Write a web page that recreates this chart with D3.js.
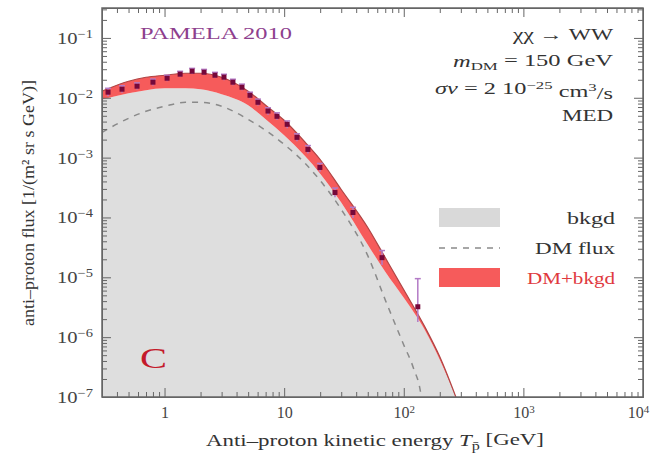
<!DOCTYPE html>
<html>
<head>
<meta charset="utf-8">
<script src="https://cdn.jsdelivr.net/npm/d3@7"></script>
<style>
  body { margin: 0; background: #fff; }
  svg text { font-family: "Liberation Serif", "DejaVu Serif", serif; }
</style>
</head>
<body>
<div id="chart"></div>
<script>
// curves, GeV and 1/(m2 sr s GeV)
var curveE    = [0.3, 0.5, 0.7, 1, 1.5, 2, 3, 5, 7, 10, 15, 20, 30, 50, 70, 100, 150, 200, 300];
var bkgdFlux  = [9.4e-3, 1.19e-2, 1.34e-2, 1.44e-2, 1.44e-2, 1.39e-2, 1.15e-2, 7.5e-3, 4.36e-3, 2.36e-3,
                 1.05e-3, 5.4e-4, 1.78e-4, 3.5e-5, 1.24e-5, 4.55e-6, 1.32e-6, 4.2e-7, 6e-8];
var totalFlux = [1.29e-2, 1.89e-2, 2.2e-2, 2.38e-2, 2.57e-2, 2.57e-2, 2.2e-2, 1.29e-2, 7.5e-3, 4.2e-3,
                 1.8e-3, 9.3e-4, 2.93e-4, 6.8e-5, 2.13e-5, 6.2e-6, 1.49e-6, 4.7e-7, 6e-8];

var dmE    = [0.3, 0.5, 0.7, 1, 1.5, 2, 3, 5, 7, 10, 15, 20, 30, 50, 70, 100, 120, 140, 150];
var dmFlux = [2.64e-3, 4.54e-3, 5.94e-3, 7.2e-3, 8.4e-3, 8.4e-3, 7.2e-3, 4.36e-3, 2.85e-3, 1.66e-3,
              8.0e-4, 4.15e-4, 1.36e-4, 2.3e-5, 4.2e-6, 7.4e-7, 3.1e-7, 1.0e-7, 2e-8];

// PAMELA 2010 anti-proton points
var pamE   = [0.337, 0.441, 0.589, 0.80, 1.05, 1.35, 1.70, 2.14, 2.64, 3.14, 3.73, 4.44,
              5.18, 6.04, 7.33, 8.71, 10.6, 12.8, 15.8, 19.9, 26.6, 37.6, 65.8, 131];
var pamF   = [0.0124, 0.0139, 0.0156, 0.0182, 0.0212, 0.0248, 0.0278, 0.0267, 0.0238, 0.0221, 0.0182, 0.0150,
              0.0110, 0.0084, 0.0060, 0.0049, 0.0036, 0.00218, 0.00137, 6.85e-4, 2.61e-4, 1.21e-4, 2.13e-5, 3.22e-6];
var pamLo  = [0.0106, 0.0121, 0.0137, 0.0161, 0.0189, 0.0222, 0.0249, 0.0239, 0.0213, 0.0197, 0.0162, 0.0133,
              0.0097, 0.0074, 0.0052, 0.0043, 0.0031, 0.00188, 0.00117, 5.8e-4, 2.18e-4, 9.8e-5, 1.6e-5, 1.8e-6];
var pamHi  = [0.0144, 0.0159, 0.0177, 0.0205, 0.0238, 0.0277, 0.0310, 0.0298, 0.0266, 0.0247, 0.0204, 0.0169,
              0.0124, 0.0095, 0.0068, 0.0056, 0.0041, 0.00250, 0.00159, 8.0e-4, 3.1e-4, 1.48e-4, 2.8e-5, 9.5e-6];

var xMajor = [1, 10, 100, 1000, 10000];
var yMajor = [1e-7, 1e-6, 1e-5, 1e-4, 1e-3, 1e-2, 1e-1];

(function(){
  var width = 651, height = 461;
  var pL = 102, pR = 643, pT = 8, pB = 397;

  var svg = d3.select("#chart").append("svg")
    .attr("width", width).attr("height", height);

  var x = d3.scaleLog().domain([0.3, 1e4]).range([pL, pR]);
  var y = d3.scaleLog().domain([1e-7, Math.pow(10, -0.5)]).range([pB, pT]);

  svg.append("clipPath").attr("id", "plot")
    .append("rect").attr("x", pL).attr("y", pT)
    .attr("width", pR - pL).attr("height", pB - pT);

  var plot = svg.append("g").attr("clip-path", "url(#plot)");

  var curve = curveE.map(function(e, i) { return {e: e, b: bkgdFlux[i], t: totalFlux[i]}; });

  // background, grey
  plot.append("path").datum(curve)
    .attr("fill", "#dedede")
    .attr("d", d3.area().curve(d3.curveMonotoneX)
      .x(function(d) { return x(d.e); })
      .y0(pB + 5)
      .y1(function(d) { return y(d.b); }));

  // DM+bkgd band
  plot.append("path").datum(curve)
    .attr("fill", "#f65b5b")
    .attr("d", d3.area().curve(d3.curveMonotoneX)
      .x(function(d) { return x(d.e); })
      .y0(function(d) { return y(d.b); })
      .y1(function(d) { return y(d.t); }));

  plot.append("path").datum(curve)
    .attr("fill", "none").attr("stroke", "#b04545").attr("stroke-width", 1.2)
    .attr("d", d3.line().curve(d3.curveMonotoneX)
      .x(function(d) { return x(d.e); })
      .y(function(d) { return y(d.t); }));

  // DM flux dashed
  plot.append("path").datum(dmE.map(function(e, i) { return [e, dmFlux[i]]; }))
    .attr("fill", "none").attr("stroke", "#8a8a8a").attr("stroke-width", 1.5)
    .attr("stroke-dasharray", "6,6")
    .attr("d", d3.line().curve(d3.curveMonotoneX)
      .x(function(d) { return x(d[0]); })
      .y(function(d) { return y(d[1]); }));

  // data points
  var pts = plot.selectAll(".pt").data(pamE).enter().append("g").attr("class", "pt");
  pts.append("line")
    .attr("x1", function(d) { return x(d); }).attr("x2", function(d) { return x(d); })
    .attr("y1", function(d, i) { return y(pamLo[i]); })
    .attr("y2", function(d, i) { return y(pamHi[i]); })
    .attr("stroke", "#b37ac6").attr("stroke-width", 1.5);
  pts.append("line")
    .attr("x1", function(d) { return x(d) - 3; }).attr("x2", function(d) { return x(d) + 3; })
    .attr("y1", function(d, i) { return y(pamHi[i]); })
    .attr("y2", function(d, i) { return y(pamHi[i]); })
    .attr("stroke", "#b37ac6").attr("stroke-width", 1.5);
  pts.append("rect")
    .attr("x", function(d) { return x(d) - 2.5; })
    .attr("y", function(d, i) { return y(pamF[i]) - 2.5; })
    .attr("width", 5).attr("height", 5)
    .attr("fill", "#76083a");

  // axes
  function minors(lo, hi) {
    var out = [];
    for (var p = lo; p < hi; p++) {
      for (var k = 2; k < 10; k++) out.push(k * Math.pow(10, p));
    }
    return out;
  }
  var xMinor = minors(-1, 4).filter(function(v) { return v >= 0.3 && v <= 1e4; });
  var yMinor = minors(-7, 0).filter(function(v) { return v <= Math.pow(10, -0.5); });

  function sup(sel, supSize) {
    sel.each(function(d) {
      var t = d3.select(this), p = Math.round(Math.log10(d));
      t.text("");
      if (p === 0) { t.text("1"); return; }
      t.append("tspan").text("10");
      if (p !== 1) {
        t.append("tspan").attr("dy", "-0.5em").attr("font-size", supSize)
          .text(p < 0 ? "\u2212" + (-p) : p);
      }
    });
  }

  function styleAxis(g) {
    g.selectAll("path, line").attr("stroke", "#666");
    g.selectAll("text").attr("fill", "#444");
  }

  var gx = svg.append("g").attr("transform", "translate(0," + pB + ")")
    .call(d3.axisBottom(x).tickValues(xMajor).tickSize(-9).tickSizeOuter(0).tickPadding(10));
  gx.selectAll(".tick text").attr("font-size", "16px").call(sup, "11px");
  gx.selectAll(".tick text").filter(function(d) { return d === 10000; }).attr("dx", "-5");
  gx.call(styleAxis);
  svg.append("g").attr("transform", "translate(0," + pB + ")")
    .call(d3.axisBottom(x).tickValues(xMinor).tickSize(-5).tickSizeOuter(0).tickFormat(""))
    .call(styleAxis);

  svg.append("g").attr("transform", "translate(0," + pT + ")")
    .call(d3.axisTop(x).tickValues(xMajor).tickSize(-9).tickSizeOuter(0).tickFormat(""))
    .call(styleAxis);
  svg.append("g").attr("transform", "translate(0," + pT + ")")
    .call(d3.axisTop(x).tickValues(xMinor).tickSize(-5).tickSizeOuter(0).tickFormat(""))
    .call(styleAxis);

  var gy = svg.append("g").attr("transform", "translate(" + pL + ",0)")
    .call(d3.axisLeft(y).tickValues(yMajor).tickSize(-9).tickSizeOuter(0).tickPadding(9));
  gy.selectAll(".tick text").attr("font-size", "17px").call(sup, "12px")
    .attr("textLength", 36).attr("lengthAdjust", "spacingAndGlyphs");
  gy.call(styleAxis);
  svg.append("g").attr("transform", "translate(" + pL + ",0)")
    .call(d3.axisLeft(y).tickValues(yMinor).tickSize(-5).tickSizeOuter(0).tickFormat(""))
    .call(styleAxis);

  svg.append("g").attr("transform", "translate(" + pR + ",0)")
    .call(d3.axisRight(y).tickValues(yMajor).tickSize(-9).tickSizeOuter(0).tickFormat(""))
    .call(styleAxis);
  svg.append("g").attr("transform", "translate(" + pR + ",0)")
    .call(d3.axisRight(y).tickValues(yMinor).tickSize(-5).tickSizeOuter(0).tickFormat(""))
    .call(styleAxis);

  svg.append("rect").attr("x", pL).attr("y", pT)
    .attr("width", pR - pL).attr("height", pB - pT)
    .attr("fill", "none").attr("stroke", "#666").attr("stroke-width", 1.5);

  // text stretched to the widths in the picture
  function wide(t, w) {
    return t.attr("textLength", w).attr("lengthAdjust", "spacingAndGlyphs");
  }

  // axis titles
  var xt = svg.append("text").attr("x", 375).attr("y", 446)
    .attr("text-anchor", "middle").attr("font-size", "17px").attr("fill", "#333");
  xt.append("tspan").text("Anti\u2013proton kinetic energy ");
  xt.append("tspan").attr("font-style", "italic").text("T");
  xt.append("tspan").attr("font-size", "12px").attr("dy", "0.3em").text("p\u0304");
  xt.append("tspan").attr("dy", "-0.3em").text(" [GeV]");
  wide(xt, 338);

  wide(svg.append("text")
    .attr("transform", "translate(34,203) rotate(-90)")
    .attr("text-anchor", "middle").attr("font-size", "17px").attr("fill", "#333")
    .text("anti\u2013proton flux [1/(m\u00b2 sr s GeV)]"), 246);

  // labels in the plot
  wide(svg.append("text").attr("x", 140).attr("y", 39)
    .attr("font-size", "16px").attr("fill", "#8e3f8e")
    .text("PAMELA 2010"), 152);

  var ann = svg.append("g").attr("font-size", "16px").attr("fill", "#333").attr("text-anchor", "end");
  wide(ann.append("text").attr("x", 613).attr("y", 40).text("\u03c7\u03c7 \u2192 WW"), 100);
  var m = ann.append("text").attr("x", 613).attr("y", 67);
  m.append("tspan").attr("font-style", "italic").text("m");
  m.append("tspan").attr("font-size", "11px").attr("dy", "0.3em").text("DM");
  m.append("tspan").attr("dy", "-0.3em").text(" = 150 GeV");
  wide(m, 160);
  var s = ann.append("text").attr("x", 613).attr("y", 94);
  s.append("tspan").attr("font-style", "italic").text("\u03c3v");
  s.append("tspan").text(" = 2 10");
  s.append("tspan").attr("font-size", "11px").attr("dy", "-0.5em").text("\u221225");
  s.append("tspan").attr("dy", "0.5em").text(" cm");
  s.append("tspan").attr("font-size", "11px").attr("dy", "-0.5em").text("3");
  s.append("tspan").attr("dy", "0.5em").text("/s");
  wide(s, 178);
  wide(ann.append("text").attr("x", 613).attr("y", 121).text("MED"), 51);

  // legend
  var legend = svg.append("g").attr("font-size", "16px").attr("text-anchor", "end");
  legend.append("rect").attr("x", 439).attr("y", 208).attr("width", 61).attr("height", 19).attr("fill", "#d9d9d9");
  wide(legend.append("text").attr("x", 615).attr("y", 224).attr("fill", "#333").text("bkgd"), 48);
  legend.append("line").attr("x1", 439).attr("x2", 500).attr("y1", 248).attr("y2", 248)
    .attr("stroke", "#8a8a8a").attr("stroke-width", 1.5).attr("stroke-dasharray", "6,6");
  wide(legend.append("text").attr("x", 615).attr("y", 254).attr("fill", "#333").text("DM flux"), 80);
  legend.append("rect").attr("x", 439).attr("y", 268).attr("width", 61).attr("height", 19).attr("fill", "#f65b5b");
  wide(legend.append("text").attr("x", 615).attr("y", 284).attr("fill", "#e0393e").text("DM+bkgd"), 88);

  wide(svg.append("text").attr("x", 140).attr("y", 368)
    .attr("font-size", "30px").attr("fill", "#c41a2b").text("C"), 27);
})();
</script>
</body>
</html>
